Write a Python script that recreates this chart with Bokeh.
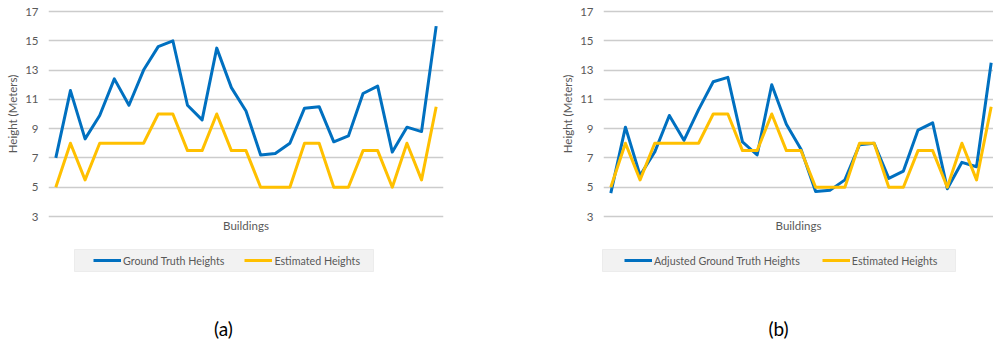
from bokeh.plotting import figure
from bokeh.models import Range1d, FixedTicker, Legend, LegendItem, BoxAnnotation, Label
from bokeh.layouts import row, column
from bokeh.embed import file_html
from bokeh.resources import INLINE

# ---- data -------------------------------------------------------------
buildings = list(range(27))
ground_truth = [7.0, 11.6, 8.3, 9.9, 12.4, 10.6, 13.0, 14.6, 15.0, 10.6, 9.6, 14.5,
                11.8, 10.2, 7.2, 7.3, 8.0, 10.4, 10.5, 8.1, 8.5, 11.4, 11.9, 7.4,
                9.1, 8.8, 16.0]
adjusted_truth = [4.6, 9.1, 5.8, 7.4, 9.9, 8.2, 10.3, 12.2, 12.5, 8.1, 7.2, 12.0,
                  9.3, 7.6, 4.7, 4.8, 5.5, 7.9, 8.0, 5.6, 6.1, 8.9, 9.4, 4.9,
                  6.7, 6.4, 13.5]
estimated = [5, 8, 5.5, 8, 8, 8, 8, 10, 10, 7.5, 7.5, 10, 7.5, 7.5, 5, 5, 5,
             8, 8, 5, 5, 7.5, 7.5, 5, 8, 5.5, 10.5]
y_ticks = [3, 5, 7, 9, 11, 13, 15, 17]

truth_labels = ["Ground Truth Heights", "Adjusted Ground Truth Heights"]
estimate_label = "Estimated Heights"
captions = ["(a)", "(b)"]

BLUE = "#0070C0"
GOLD = "#FFC000"
GREY_TEXT = "#595959"
FONT = "Lato"
FS = "11.5px"
LEGEND_FS = "10.7px"

STEP = 395 / 27.0        # pixels per building slot
PX_PER_M = 205 / 14.0    # pixels per metre
CHART_H = 244
BOTTOM_H = 344 - CHART_H
NAN = float("nan")


def chart(truth, width, frame_w):
    border_left = 48
    x_end = -0.5 + frame_w / STEP
    pad = 2 / PX_PER_M
    p = figure(width=width, height=CHART_H, output_backend="svg",
               toolbar_location=None,
               x_range=Range1d(-0.5, x_end),
               y_range=Range1d(3 - pad, 17 + pad),
               min_border_left=border_left,
               min_border_right=width - border_left - frame_w,
               min_border_top=9, min_border_bottom=CHART_H - 218)
    p.outline_line_color = None
    p.border_fill_color = "white"

    p.xgrid.grid_line_color = None
    p.ygrid.grid_line_color = "#cccccc"
    p.ygrid.grid_line_width = 1.5

    for ax in (p.xaxis, p.yaxis):
        ax.axis_line_color = None
        ax.major_tick_line_color = None
        ax.minor_tick_line_color = None
        ax.major_tick_out = 0
        ax.major_tick_in = 0
        ax.minor_tick_out = 0
        ax.minor_tick_in = 0
        ax.axis_label_text_font = FONT
        ax.axis_label_text_font_size = FS
        ax.axis_label_text_font_style = "normal"
        ax.axis_label_text_color = GREY_TEXT

    p.yaxis.ticker = FixedTicker(ticks=y_ticks)
    p.yaxis.major_label_standoff = 10
    p.yaxis.major_label_text_font = FONT
    p.yaxis.major_label_text_font_size = FS
    p.yaxis.major_label_text_color = GREY_TEXT
    p.yaxis.axis_label = "Height (Meters)"
    p.yaxis.axis_label_standoff = 3

    p.xaxis.ticker = FixedTicker(ticks=[])
    p.xaxis.axis_label = "Buildings"
    p.xaxis.axis_label_standoff = 0

    p.line(buildings, truth, line_color=BLUE, line_width=3, line_join="round")
    p.line(buildings, estimated, line_color=GOLD, line_width=3, line_join="round")
    return p


left = chart(ground_truth, 555, 395)
right = chart(adjusted_truth, 993 - 555, 390)

# ---- legends and captions strip under the two charts ------------------
strip = figure(width=993, height=BOTTOM_H, output_backend="svg",
               toolbar_location=None, x_axis_type=None, y_axis_type=None,
               x_range=Range1d(0, 993), y_range=Range1d(BOTTOM_H, 0),
               min_border=0)
strip.outline_line_color = None
strip.grid.grid_line_color = None

legend_boxes = [(74, 373), (602, 955)]
legend_starts = [93, 624]
legend_spacing = [20, 22]
caption_x = [223, 778]

for i in range(2):
    l, r = legend_boxes[i]
    strip.add_layout(BoxAnnotation(left=l, right=r, top=5, bottom=27,
                                   fill_color="#f2f2f2", fill_alpha=1.0,
                                   line_color="#d0d0d0", line_width=1))
    # legend-only swatches (no visible data in the strip)
    r_truth = strip.line(x=[NAN], y=[NAN], line_color=BLUE, line_width=3)
    r_est = strip.line(x=[NAN], y=[NAN], line_color=GOLD, line_width=3)
    strip.add_layout(Legend(
        items=[LegendItem(label=truth_labels[i], renderers=[r_truth]),
               LegendItem(label=estimate_label, renderers=[r_est])],
        orientation="horizontal", location=(legend_starts[i], BOTTOM_H - 27),
        padding=0, margin=0, spacing=legend_spacing[i],
        glyph_width=28, glyph_height=22, label_height=22, label_standoff=2,
        label_text_font=FONT, label_text_font_size=LEGEND_FS,
        label_text_color=GREY_TEXT,
        background_fill_alpha=0, border_line_color=None), "center")
    strip.add_layout(Label(x=caption_x[i], y=84, text=captions[i],
                           text_align="center", text_baseline="middle",
                           text_font=FONT, text_font_size="19px",
                           text_color="#000000"))

layout = column(row(left, right, spacing=0), strip, spacing=0)
open("out.html", "w").write(file_html(layout, INLINE))
